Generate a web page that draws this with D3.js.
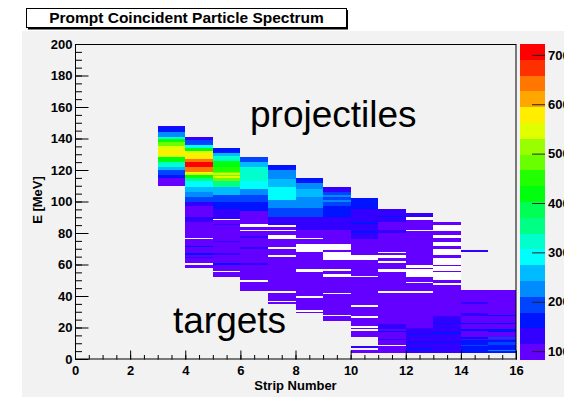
<!DOCTYPE html>
<html>
<head>
<meta charset="utf-8">
<script src="https://d3js.org/d3.v7.min.js"></script>
<style>
    body { margin: 0; background: #ffffff; }
    svg text { font-family: "Liberation Sans", Arial, Helvetica, sans-serif; }
</style>
</head>
<body>
<div id="chartvis"></div>
<script>
// strip numbers, each bin is 1 strip wide
let strips = [3, 4, 5, 6, 7, 8, 9, 10, 11, 12, 13, 14, 15];

// per strip: [E low, E high, counts]
// later rows overwrite earlier ones, 0 = empty bins inside the strip
let strip3 = [[110,115,110],[115,117,160],[117,120,200],[120,122,260],[122,125,320],[125,128,420],
    [128,130,545],[130,133,580],[133,135,545],[135,138,480],[138,140,420],[140,141,320],
    [141,144,225],[144,147,160],[147,148,120]];
let strip4 = [[58,87,100],[87,90,130],[90,97,100],[97,100,130],[100,103,190],[103,106,225],
    [106,109,260],[109,113,290],[113,115,350],[115,117,420],[117,119,545],[119,122,640],
    [122,125,705],[125,127,640],[127,130,580],[130,132,545],[132,134,420],[134,136,300],
    [136,139,190],[139,141,130],[76,77,0],[60,61,0],[71,72,150],[66,67,150],[64,65,130]];
let strip5 = [[52,88,100],[88,95,120],[95,100,160],[100,104,200],[104,109,270],[109,113,340],
    [113,119,480],[119,122,450],[122,126,420],[126,129,330],[129,131,260],[131,134,170],
    [115,116,545],[117,118,545],[88,89,0],[85,86,140],[74,75,140],[66,67,140],[60,61,150],[55,56,0]];
let strip6 = [[43,87,100],[87,94,110],[94,100,160],[100,104,200],[104,108,240],[108,113,290],
    [113,122,330],[122,125,260],[125,128,180],[84,86,0],[81,82,0],[49,50,0],[77,78,130],
    [70,71,130],[60,61,140]];
let strip7 = [[35,85,100],[85,90,120],[90,96,190],[96,101,240],[101,109,300],[109,114,260],
    [114,120,210],[120,123,160],[84,85,0],[81,82,0],[76,79,0],[70,71,0],[65,66,0],[42,43,0],[36,37,0]];
let strip8 = [[29,82,100],[82,90,140],[90,96,190],[96,103,220],[103,108,260],[108,112,225],
    [112,115,150],[76,77,0],[68,73,0],[55,57,0],[39,40,0],[30,31,0]];
let strip9 = [[24,82,100],[82,90,130],[90,97,160],[97,106,190],[106,109,140],[100,101,225],
    [103,104,225],[69,73,0],[63,68,0],[56,57,0],[52,54,0],[41,42,0],[27,28,0]];
let strip10 = [[14,63,100],[63,66,0],[66,76,100],[76,95,120],[95,102,150],[4,6,100],[7,8,130],
    [86,87,160],[80,81,160],[52,53,0],[33,34,0],[26,27,0],[20,21,0],[18,19,0]];
let strip11 = [[4,95,100],[87,95,120],[90,91,150],[80,82,130],[67,68,0],[64,66,0],[61,62,0],
    [55,57,0],[42,43,0],[19,22,140],[17,18,170],[12,13,130],[8,9,0]];
let strip12 = [[20,93,100],[4,20,130],[90,93,130],[88,90,0],[81,82,0],[58,60,0],[52,57,0],
    [48,49,0],[42,43,0],[15,16,170],[10,11,170],[6,7,160]];
let strip13 = [[47,87,0],[85,87,100],[79,81,100],[74,77,100],[70,72,100],[64,66,100],[59,60,100],
    [55,56,100],[48,50,100],[4,47,100],[4,27,130],[22,23,170],[16,17,160],[10,11,170]];
let strip14 = [[68,69,120],[4,44,100],[35,36,130],[27,29,130],[22,23,160],[18,19,170],
    [13,14,160],[4,12,170],[8,9,190]];
let strip15 = [[4,44,100],[27,28,150],[22,23,170],[17,19,170],[13,14,190],[4,12,170],
    [9,11,190],[5,6,230]];

let stripData = [strip3, strip4, strip5, strip6, strip7, strip8, strip9, strip10,
    strip11, strip12, strip13, strip14, strip15];

// axes
let xTicks = [0, 2, 4, 6, 8, 10, 12, 14, 16];
let yTicks = [0, 20, 40, 60, 80, 100, 120, 140, 160, 180, 200];
let zTicks = [100, 200, 300, 400, 500, 600, 700];
let zRange = [82, 722];


class StripVis {
    constructor(parentElement, _data) {
        this.parentElement = parentElement;
        this.data = _data;

        this.initVis();
    }

    initVis() {
        let vis = this;

        vis.svg = d3.select("#" + vis.parentElement).append("svg")
            .attr("width", 564)
            .attr("height", 398);

        // grey canvas
        vis.svg.append("rect")
            .attr("x", 22).attr("y", 31)
            .attr("width", 542).attr("height", 366)
            .attr("fill", "#f2f2f2");

        vis.x = d3.scaleLinear().domain([0, 16]).range([75, 516]);
        vis.y = d3.scaleLinear().domain([0, 200]).range([359, 44]);
        vis.z = d3.scaleLinear().domain(zRange).range([360, 44]);

        // ROOT pretty palette, 20 contours, violet -> red
        vis.palette = d3.range(20).map(j => {
            let idx = Math.floor((j + 0.99) * 50 / 20);
            return d3.hsl(280 - (idx + 1) * 5.6, 1, 0.5).formatHex();
        });
        vis.color = d3.scaleQuantize().domain(zRange).range(vis.palette);

        // cells
        vis.data.forEach(function (runs, i) {
            let s = strips[i];
            vis.svg.append("g")
                .selectAll("rect")
                .data(runs)
                .enter()
                .append("rect")
                .attr("x", vis.x(s))
                .attr("width", vis.x(s + 1) - vis.x(s))
                .attr("y", d => vis.y(d[1]))
                .attr("height", d => vis.y(d[0]) - vis.y(d[1]))
                .attr("fill", d => d[2] > 0 ? vis.color(d[2]) : "#ffffff")
                .attr("shape-rendering", "crispEdges");
        });

        // frame
        vis.svg.append("rect")
            .attr("x", 75.5).attr("y", 44.5)
            .attr("width", 440.5).attr("height", 314.5)
            .attr("fill", "none")
            .attr("stroke", "black");

        // x axis
        vis.svg.append("g")
            .attr("class", "axis")
            .attr("transform", "translate(0,359.5)")
            .call(d3.axisBottom(vis.x).tickValues(vis.x.ticks(32)).tickSize(-4.5).tickFormat(""));
        vis.svg.append("g")
            .attr("class", "axis x-axis")
            .attr("transform", "translate(0,359.5)")
            .call(d3.axisBottom(vis.x).tickValues(xTicks).tickSize(-9).tickPadding(6).tickFormat(d3.format("d")));

        // y axis
        vis.svg.append("g")
            .attr("class", "axis")
            .attr("transform", "translate(75.5,0)")
            .call(d3.axisLeft(vis.y).tickValues(vis.y.ticks(40)).tickSize(-6.5).tickFormat(""));
        vis.svg.append("g")
            .attr("class", "axis y-axis")
            .attr("transform", "translate(75.5,0)")
            .call(d3.axisLeft(vis.y).tickValues(yTicks).tickSize(-13).tickPadding(3).tickFormat(d3.format("d")));

        vis.svg.selectAll(".axis .domain").remove();
        vis.svg.selectAll(".axis line").attr("stroke", "black");
        vis.svg.selectAll(".axis text")
            .attr("fill", "black")
            .attr("font-size", "13px")
            .attr("font-weight", "bold")
            .style("font-family", "'Liberation Sans', Arial, sans-serif");

        // axis titles
        vis.svg.append("text")
            .attr("x", 295.5).attr("y", 389.5)
            .attr("text-anchor", "middle")
            .attr("font-size", "13px")
            .attr("font-weight", "bold")
            .text("Strip Number");

        vis.svg.append("text")
            .attr("transform", "translate(41.5,200) rotate(-90)")
            .attr("text-anchor", "middle")
            .attr("font-size", "13px")
            .attr("font-weight", "bold")
            .text("E [MeV]");

        // colour bar
        let levels = d3.range(20).map(j => zRange[0] + j * (zRange[1] - zRange[0]) / 20);
        vis.svg.append("g")
            .selectAll("rect")
            .data(levels)
            .enter()
            .append("rect")
            .attr("x", 520)
            .attr("width", 25)
            .attr("y", d => vis.z(d + (zRange[1] - zRange[0]) / 20))
            .attr("height", (360 - 44) / 20)
            .attr("fill", d => vis.color(d + 1))
            .attr("shape-rendering", "crispEdges");

        vis.svg.append("g")
            .attr("class", "zaxis")
            .attr("transform", "translate(545,0)")
            .call(d3.axisRight(vis.z).tickValues(zTicks).tickSize(-13).tickPadding(3).tickFormat(d3.format("d")));
        vis.svg.selectAll(".zaxis .domain").remove();
        vis.svg.selectAll(".zaxis line").attr("stroke", "#222");
        vis.svg.selectAll(".zaxis text")
            .attr("fill", "black")
            .attr("font-size", "13px")
            .attr("font-weight", "bold");

        // labels in the plot
        vis.svg.append("text")
            .attr("x", 250).attr("y", 127)
            .attr("font-size", "37px")
            .attr("fill", "black")
            .text("projectiles");

        vis.svg.append("text")
            .attr("x", 173).attr("y", 333)
            .attr("font-size", "37px")
            .attr("fill", "black")
            .text("targets");

        // title box with shadow
        vis.svg.append("rect")
            .attr("x", 28).attr("y", 10)
            .attr("width", 320).attr("height", 19.5)
            .attr("fill", "black");
        vis.svg.append("rect")
            .attr("x", 26.5).attr("y", 8.5)
            .attr("width", 320).attr("height", 19)
            .attr("fill", "white")
            .attr("stroke", "black");
        vis.svg.append("text")
            .attr("x", 186.5).attr("y", 23.3)
            .attr("text-anchor", "middle")
            .attr("font-size", "15.5px")
            .attr("font-weight", "bold")
            .text("Prompt Coincident Particle Spectrum");
    }
}

new StripVis("chartvis", stripData);
</script>
</body>
</html>
